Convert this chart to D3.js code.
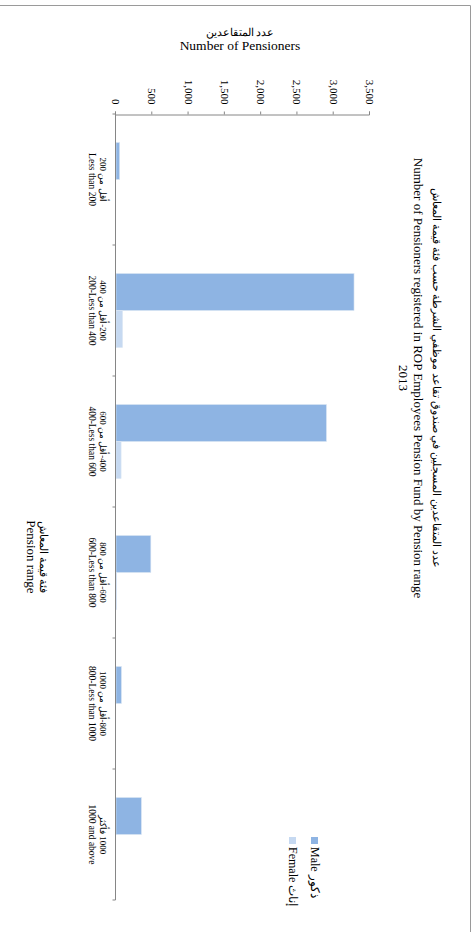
<!DOCTYPE html>
<html>
<head>
<meta charset="utf-8">
<script src="https://cdn.jsdelivr.net/npm/d3@7"></script>
<style>
  html, body { margin: 0; padding: 0; background: #fff; }
  svg { display: block; }
  text { font-family: "Liberation Serif", "Times New Roman", serif; fill: #000; }
</style>
</head>
<body>
<div id="chart"></div>
<script>
// ---- data ----
const categoriesAr = ["أقل من 200", "200-أقل من 400", "400-أقل من 600", "600-أقل من 800", "800-أقل من 1000", "1000 فأكثر"];
const categoriesEn = ["Less than 200", "200-Less than 400", "400-Less than 600", "600-Less than 800", "800-Less than 1000", "1000 and above"];
const maleValues = [50, 3280, 2900, 480, 75, 350];
const femaleValues = [0, 90, 70, 10, 0, 0];
const seriesNames = ["Male", "Female"];
const seriesNamesAr = ["ذكور", "إناث"];
const valueTicks = [0, 500, 1000, 1500, 2000, 2500, 3000, 3500];
const titleAr = "عدد المتقاعدين المسجلين في صندوق تقاعد موظفي الشرطة حسب فئة قيمة المعاش";
const titleEn = "Number of Pensioners registered in ROP Employees Pension Fund by Pension range";
const titleYear = "2013";
const valueAxisTitleAr = "عدد المتقاعدين";
const valueAxisTitleEn = "Number of Pensioners";
const catAxisTitleAr = "فئة قيمة المعاش";
const catAxisTitleEn = "Pension range";

const colors = ["#8EB4E3", "#C6D9F1"];
const W = 476, H = 932;

const svg = d3.select("#chart").append("svg").attr("width", W).attr("height", H);

// page border (top and right edges)
svg.append("line").attr("x1", 0).attr("x2", 470.5).attr("y1", 5.5).attr("y2", 5.5).attr("stroke", "#9a9a9a");
svg.append("line").attr("x1", 470.5).attr("x2", 470.5).attr("y1", 5.5).attr("y2", H).attr("stroke", "#9a9a9a");

// Value axis title (horizontal on page)
svg.append("text").attr("x", 240).attr("y", 36).attr("text-anchor", "middle")
  .attr("font-size", 11).attr("font-family", "DejaVu Sans, sans-serif").text(valueAxisTitleAr);
svg.append("text").attr("x", 240).attr("y", 50).attr("text-anchor", "middle")
  .attr("font-size", 13.5).text(valueAxisTitleEn);

// Chart drawn in original (unrotated) frame, rotated 90deg clockwise
const g = svg.append("g").attr("transform", `translate(${W},0) rotate(90)`);
// in g: u (horizontal) -> page y ; v (vertical) -> page x = W - v

const y = d3.scaleLinear().domain([0, 3500]).range([360, 106]);
const x = d3.scaleBand().domain(d3.range(categoriesEn.length)).range([114, 900]).paddingInner(0).paddingOuter(0);
const bw = x.bandwidth();
const groupW = bw * 0.565;
const xs = d3.scaleBand().domain([0, 1]).range([0, groupW]);

// bars
const data = categoriesEn.map((c, i) => ({ i, vals: [maleValues[i], femaleValues[i]] }));
const grp = g.selectAll(".cat").data(data).enter().append("g")
  .attr("transform", d => `translate(${x(d.i) + (bw - groupW) / 2},0)`);
grp.selectAll("rect").data(d => d.vals.map((v, s) => ({ v, s }))).enter().append("rect")
  .attr("x", d => xs(d.s))
  .attr("width", xs.bandwidth())
  .attr("y", d => y(d.v))
  .attr("height", d => y(0) - y(d.v))
  .attr("fill", d => colors[d.s])
  .attr("stroke", d => d.v > 0 ? "#dbe6f4" : "none")
  .attr("stroke-width", 0.6);

// value axis (left in original frame)
const yAxis = d3.axisLeft(y).tickValues(valueTicks).tickSize(3).tickPadding(7).tickFormat(d3.format(","));
const ya = g.append("g").attr("transform", "translate(114.5,0)").call(yAxis);
ya.select(".domain").attr("stroke", "#868686");
ya.selectAll(".tick line").attr("stroke", "#868686");
ya.selectAll(".tick text").attr("font-size", 11).attr("font-family", "Liberation Serif, serif");

// category axis (bottom in original frame)
const baseY = y(0) + 0.5;
g.append("line").attr("x1", 114).attr("x2", 900).attr("y1", baseY).attr("y2", baseY).attr("stroke", "#868686");
const bounds = d3.range(categoriesEn.length + 1).map(k => k === categoriesEn.length ? x.range()[1] : x(k));
g.selectAll(".ctick").data(bounds).enter().append("line")
  .attr("x1", d => d).attr("x2", d => d).attr("y1", baseY).attr("y2", baseY + 3).attr("stroke", "#868686");

g.selectAll(".clabAr").data(categoriesAr).enter().append("text")
  .attr("x", (d, i) => x(i) + bw / 2).attr("y", baseY + 16)
  .attr("text-anchor", "middle").attr("font-size", 9).attr("font-family", "DejaVu Sans, sans-serif")
  .attr("direction", "rtl").style("unicode-bidi", "plaintext")
  .text(d => d);
g.selectAll(".clabEn").data(categoriesEn).enter().append("text")
  .attr("x", (d, i) => x(i) + bw / 2).attr("y", baseY + 27)
  .attr("text-anchor", "middle").attr("font-size", 9.5)
  .text(d => d);

// chart title
const tc = 378;
g.append("text").attr("x", tc).attr("y", 43).attr("text-anchor", "middle").attr("font-size", 11)
  .attr("font-family", "DejaVu Sans, sans-serif").text(titleAr);
g.append("text").attr("x", tc).attr("y", 62).attr("text-anchor", "middle").attr("font-size", 13).text(titleEn);
g.append("text").attr("x", tc).attr("y", 77).attr("text-anchor", "middle").attr("font-size", 13).text(titleYear);

// category axis title
g.append("text").attr("x", 557).attr("y", 436).attr("text-anchor", "middle").attr("font-size", 11)
  .attr("font-family", "DejaVu Sans, sans-serif").text(catAxisTitleAr);
g.append("text").attr("x", 557).attr("y", 449).attr("text-anchor", "middle").attr("font-size", 13).text(catAxisTitleEn);

// legend
const legY = [158, 180];
seriesNames.forEach((s, k) => {
  g.append("rect").attr("x", 837).attr("y", legY[k]).attr("width", 7).attr("height", 7).attr("fill", colors[k]);
  g.append("text").attr("x", 847).attr("y", legY[k] + 7.5).attr("font-size", 12)
    .text(s + "  " + seriesNamesAr[k]);
});
</script>
</body>
</html>
